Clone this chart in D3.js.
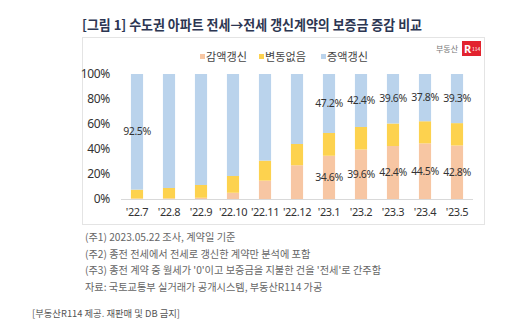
<!DOCTYPE html>
<html><head><meta charset="utf-8">
<script src="https://cdn.jsdelivr.net/npm/d3@7"></script>
<style>body{margin:0;background:#fff;}svg{display:block;font-family:"Noto Sans CJK KR","Noto Sans",sans-serif;}</style>
</head><body>
<svg id="c" width="523" height="334"></svg>
<script>
const categories = ["'22.7","'22.8","'22.9","'22.10","'22.11","'22.12","'23.1","'23.2","'23.3","'23.4","'23.5"];
const decrease = [0.4, 0.5, 1.0, 5.0, 14.7, 27.0, 34.6, 39.6, 42.4, 44.5, 42.8];
const noChange = [7.1, 8.3, 10.2, 13.4, 16.0, 17.0, 18.2, 18.0, 18.0, 17.7, 17.9];
const increase = [92.5, 91.2, 88.8, 81.6, 69.3, 56.0, 47.2, 42.4, 39.6, 37.8, 39.3];
const showIncLabel = [true,false,false,false,false,false,true,true,true,true,true];
const showDecLabel = [false,false,false,false,false,false,true,true,true,true,true];
const seriesNames = ["감액갱신","변동없음","증액갱신"];
const yTicks = [0,20,40,60,80,100];
const colors = ["#F7C6A3","#FDD24E","#BAD3EC"];
const notes = ["(주1) 2023.05.22 조사, 계약일 기준","(주2) 종전 전세에서 전세로 갱신한 계약만 분석에 포함","(주3) 종전 계약 중 월세가 '0'이고 보증금을 지불한 건을 '전세'로 간주함","자료: 국토교통부 실거래가 공개시스템, 부동산R114 가공"];

const svg = d3.select("#c");
svg.append("text").attr("x",82).attr("y",30).attr("font-size",13.5).attr("font-weight","bold").attr("fill","#2c3652")
  .attr("textLength",340).attr("lengthAdjust","spacingAndGlyphs").text("[그림 1] 수도권 아파트 전세→전세 갱신계약의 보증금 증감 비교");
svg.append("rect").attr("x",82.5).attr("y",37.5).attr("width",402).attr("height",187).attr("fill","#fff").attr("stroke","#e4e4e4");

const data = categories.map((c,i)=>({c, v:[decrease[i],noChange[i],increase[i]], i}));
const x = d3.scaleBand().domain(categories).range([121,473]).paddingInner(0.62).paddingOuter(0.31);
const y = d3.scaleLinear().domain([0,100]).range([199,74]);

const ya = svg.append("g").attr("transform","translate(113,0)").call(d3.axisLeft(y).tickValues(yTicks).tickFormat(d=>d+"%").tickSize(0));
ya.select(".domain").remove();
ya.selectAll("text").attr("font-size",12).attr("fill","#333").attr("font-family","'Noto Sans',sans-serif").attr("letter-spacing",-0.3);

const stack = d3.stack().keys([0,1,2]).value((d,k)=>d.v[k]);
const st = stack(data);
svg.append("g").selectAll("g").data(st).join("g").attr("fill",(d,k)=>colors[k])
  .selectAll("rect").data(d=>d).join("rect")
  .attr("x",d=>x(d.data.c)).attr("width",x.bandwidth())
  .attr("y",d=>y(d[1])).attr("height",d=>y(d[0])-y(d[1]));

svg.append("line").attr("x1",121).attr("x2",473).attr("y1",199.5).attr("y2",199.5).attr("stroke","#d9d9d9");

const xa = svg.append("g").attr("transform","translate(0,199)").call(d3.axisBottom(x).tickSize(0).tickPadding(9));
xa.select(".domain").remove();
xa.selectAll("text").attr("font-size",11).attr("fill","#333").attr("font-family","'Noto Sans',sans-serif").attr("letter-spacing",-0.4);

const lab = svg.append("g").attr("font-size",10.5).attr("fill","#333").attr("text-anchor","middle").attr("font-family","'Noto Sans',sans-serif").attr("letter-spacing",-0.4);
data.forEach((d,i)=>{
  const cx = x(d.c)+x.bandwidth()/2;
  if(showIncLabel[i]){
    const mid = d.v[0]+d.v[1]+d.v[2]/2;
    lab.append("text").attr("x",cx).attr("y",y(mid)).attr("dy","0.35em").text(increase[i].toFixed(1)+"%");
  }
  if(showDecLabel[i]){
    lab.append("text").attr("x",cx).attr("y",y(d.v[0]/2)).attr("dy","0.35em").text(decrease[i].toFixed(1)+"%");
  }
});

const legX = [200,259,321];
seriesNames.forEach((n,k)=>{
  svg.append("rect").attr("x",legX[k]).attr("y",54).attr("width",5).attr("height",5).attr("fill",colors[k]);
  svg.append("text").attr("x",legX[k]+6).attr("y",61).attr("font-size",11.5).attr("fill","#444")
    .attr("textLength",41).attr("lengthAdjust","spacingAndGlyphs").text(n);
});

svg.append("text").attr("x",458).attr("y",52).attr("text-anchor","end").attr("font-size",8).attr("fill","#777").text("부동산");
svg.append("rect").attr("x",462).attr("y",41).attr("width",19).attr("height",15).attr("fill","#e2232f");
svg.append("text").attr("x",464).attr("y",53).attr("font-size",11).attr("font-weight","bold").attr("fill","#fff").attr("font-family","'Noto Sans',sans-serif").text("R");
svg.append("text").attr("x",472).attr("y",51).attr("font-size",5).attr("fill","#fff").text("114");

notes.forEach((t,i)=>{
  svg.append("text").attr("x",85).attr("y",241+i*16.5).attr("font-size",10.2).attr("fill","#666").text(t);
});
svg.append("text").attr("x",32).attr("y",317).attr("font-size",9.5).attr("fill","#555")
  .attr("textLength",148).attr("lengthAdjust","spacingAndGlyphs").text("[부동산R114 제공. 재판매 및 DB 금지]");
</script>
</body></html>
